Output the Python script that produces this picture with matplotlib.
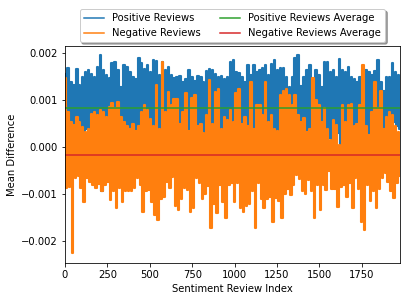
import numpy as np
import matplotlib
matplotlib.use("Agg")
import matplotlib.pyplot as plt

# Values in units of 1e-5 (local peaks / troughs, left to right)
positive_peaks = [157, 170, 140, 133, 168, 133, 150, 161, 165, 157, 150, 172, 196, 165, 154, 147, 179, 182, 165,
                  129, 175, 172, 160, 150, 145, 190, 180, 168, 175, 160, 186, 185, 155, 182, 165, 172, 155, 148,
                  150, 152, 140, 145, 165, 150, 142, 152, 150, 140, 162, 168, 165, 157, 150, 152, 145, 150, 182,
                  186, 160, 158, 150, 140, 175, 155, 175, 160, 165, 170, 175, 155, 178, 186, 165, 170, 170, 150,
                  129, 150, 190, 196, 130, 150, 165, 175, 135, 165, 155, 129, 182, 182, 160, 165, 150, 189, 165,
                  160, 172, 150, 145, 140, 150, 165, 165, 160, 155, 162, 186, 140, 120, 150, 150, 179, 160, 155]
positive_troughs = [60, 45, 35, 30, 25, 28, 35, 40, 30, 45, 50, 40, -94, 45, 55, 50, 60, 55, 60,
                    45, 35, 15, 20, 25, 30, 35, 50, 50, 45, 40, 35, 40, 30, 45, 40, 50, 45, 40,
                    40, 12, -60, 30, 5, 40, 35, 20, 10, 15, 35, 40, 30, 35, 40, 25, 40, 40, 45,
                    40, 45, 45, 35, 40, 30, 19, 30, 40, 35, 26, 40, 35, 40, 25, 10, 40, 40, 45,
                    40, 45, 40, 35, 33, 30, 33, 20, 40, 45, 40, 30, 35, 20, 10, 35, 30, 0, 40,
                    40, 45, 40, 35, 35, 40, 40, 25, 12, 40, 45, 40, 40, 35, 40, 45, 55, 45, 40]
negative_peaks = [147, 76, 55, 48, 65, 55, 44, 33, 40, 72, 76, 69, 79, 76, 65, 87, 94, 83, 97,
                  65, 55, 45, 40, 50, 35, 45, 75, 90, 80, 60, 45, 133, 40, 182, 75, 118, 90, 104,
                  104, 50, 76, 115, 35, 105, 111, 45, 50, 30, 70, 143, 50, 118, 125, 40, 65, 58, 80,
                  55, 115, 125, 50, 65, 45, 140, 40, 90, 90, 70, 140, 55, 68, 40, 35, 111, 120, 125,
                  111, 90, 111, 68, 55, 62, 33, 40, 147, 100, 90, 55, 83, 40, 15, 58, 48, 5, 90,
                  55, 90, 93, 45, 50, 90, 175, 45, 26, 76, 140, 83, 120, 40, 65, 75, 70, 45, 33]
negative_troughs = [-87, -84, -226, -66, -62, -87, -116, -66, -73, -80, -87, -77, -94, -80, -73, -112, -94, -130, -87,
                    -116, -94, -92, -94, -87, -66, -80, -137, -94, -90, -116, -144, -155, -110, -105, -73, -87, -64, -125,
                    -133, -110, -87, -90, -137, -130, -66, -75, -110, -100, -82, -172, -120, -140, -80, -116, -151, -80, -75,
                    -116, -75, -130, -138, -125, -120, -94, -172, -75, -110, -130, -110, -105, -158, -108, -115, -151, -100, -88,
                    -101, -80, -58, -68, -94, -100, -70, -94, -151, -80, -133, -80, -90, -50, -88, -88, -126, -85, -80,
                    -105, -75, -130, -65, -88, -158, -176, -80, -115, -94, -130, -88, -66, -55, -73, -94, -108, -75, -60]
positive_average = 0.00084
negative_average = -0.00017
last_review_index = 1975
x_ticks = [0, 250, 500, 750, 1000, 1250, 1500, 1750]

def interleave(peaks, troughs):
    out = np.empty(2 * len(peaks))
    out[0::2] = peaks
    out[1::2] = troughs
    return out * 1e-5

pos = interleave(positive_peaks, positive_troughs)
neg = interleave(negative_peaks, negative_troughs)
idx = np.linspace(0, last_review_index, len(pos))

W, H = 407, 301
fig = plt.figure(figsize=(W / 72, H / 72), dpi=72)
ax = fig.add_axes([65 / W, 1 - 263.3 / H, 335 / W, 217.8 / H])

ax.plot(idx, pos, drawstyle="steps-mid", lw=2.1, label="Positive Reviews")
ax.plot(idx, neg, drawstyle="steps-mid", lw=2.1, label="Negative Reviews")
ax.plot([0, last_review_index], [positive_average] * 2, label="Positive Reviews Average")
ax.plot([0, last_review_index], [negative_average] * 2, label="Negative Reviews Average")

ax.set_xlim(0, last_review_index)
ax.set_ylim(-0.00247, 0.00217)
ax.set_xticks(x_ticks)
ax.set_yticks([-0.002, -0.001, 0.0, 0.001, 0.002])
ax.set_xlabel("Sentiment Review Index")
ax.set_ylabel("Mean Difference")
handles, labels = ax.get_legend_handles_labels()
for h in handles[:2]:
    pass
leg = ax.legend(loc="upper center", bbox_to_anchor=(0.5, 1.19), ncol=2, shadow=True, fancybox=True)
for line in leg.get_lines():
    line.set_linewidth(1.5)

fig.savefig("out.png", dpi=72)
